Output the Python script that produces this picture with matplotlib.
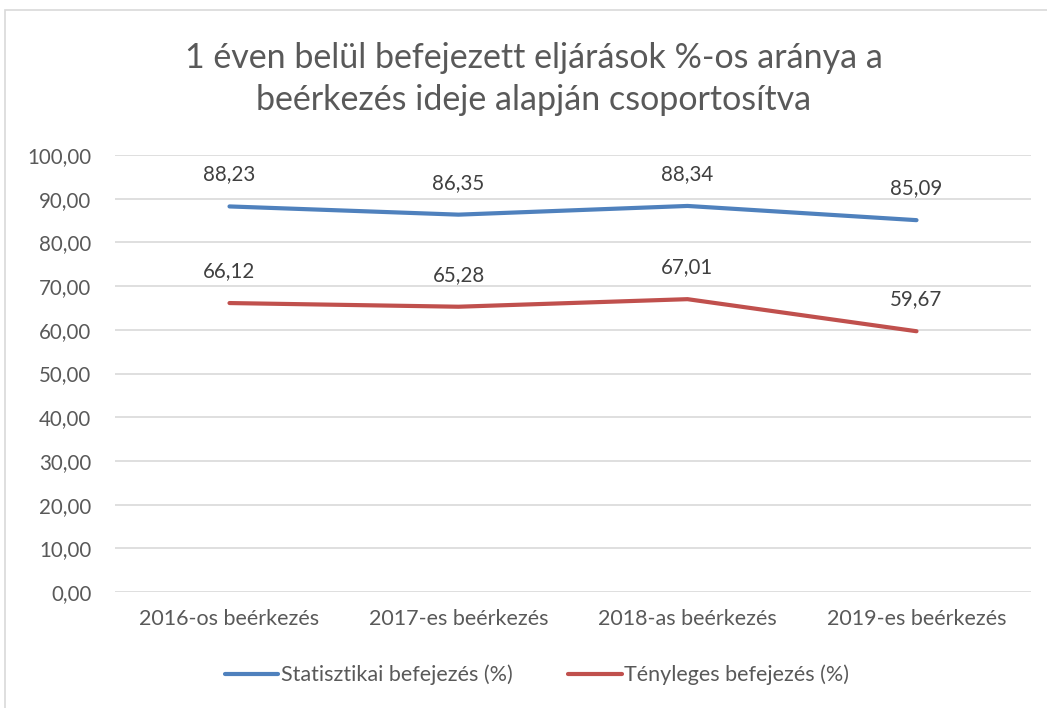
import matplotlib.pyplot as plt
from matplotlib.patches import Rectangle

categories = ["2016-os beérkezés", "2017-es beérkezés", "2018-as beérkezés", "2019-es beérkezés"]
statisztikai = [88.23, 86.35, 88.34, 85.09]
tenyleges = [66.12, 65.28, 67.01, 59.67]
series_names = ["Statisztikai befejezés (%)", "Tényleges befejezés (%)"]
yticks = [0, 10, 20, 30, 40, 50, 60, 70, 80, 90, 100]

COLORS = {"stat": "#4F81BD", "teny": "#C0504D", "text": "#595959", "grid": "#D9D9D9"}

plt.rcParams.update({
    "font.family": ["Lato", "DejaVu Sans"],
    "font.size": 12,
})


def fmt(v):
    return f"{v:.2f}".replace(".", ",")


fig = plt.figure(figsize=(10.47, 7.08), dpi=100)
fig.patches.append(Rectangle((5 / 1047, -0.1), 1.2, (1 - 10 / 708) + 0.1, transform=fig.transFigure,
                             fill=False, edgecolor="#D9D9D9", lw=1.2))
ax = fig.add_axes([115 / 1047, 1 - 592 / 708, (1031 - 115) / 1047, (592 - 155) / 708])

x = list(range(len(categories)))
l1, = ax.plot(x, statisztikai, color=COLORS["stat"], lw=3, solid_capstyle="round", label=series_names[0])
l2, = ax.plot(x, tenyleges, color=COLORS["teny"], lw=3, solid_capstyle="round", label=series_names[1])

# data labels above each point
for xi, v in zip(x, statisztikai):
    ax.annotate(fmt(v), (xi, v), xytext=(0, 32), textcoords="offset pixels", ha="center", va="center",
                fontsize=14.8, color="#404040")
for xi, v in zip(x, tenyleges):
    ax.annotate(fmt(v), (xi, v), xytext=(0, 32), textcoords="offset pixels", ha="center", va="center",
                fontsize=14.8, color="#404040")

ax.set_xlim(-0.5, len(categories) - 0.5)
ax.set_ylim(0, 100)
ax.set_yticks(yticks)
ax.set_yticklabels([fmt(t) for t in yticks])
ax.set_xticks(x)
ax.set_xticklabels(categories)
ax.tick_params(axis="y", length=0, colors=COLORS["text"], labelsize=14.8, pad=17)
ax.tick_params(axis="x", length=0, colors=COLORS["text"], labelsize=15.5, pad=12)
ax.grid(axis="y", color=COLORS["grid"], lw=1.2)
ax.set_axisbelow(True)
for s in ax.spines.values():
    s.set_visible(False)

fig.text(534 / 1047, 1 - 79 / 708, "1 éven belül befejezett eljárások %-os aránya a\nbeérkezés ideje alapján csoportosítva",
         ha="center", va="center", fontsize=24.5, color=COLORS["text"], linespacing=1.4)

fig.legend(handles=[l1, l2], loc="center", bbox_to_anchor=(537 / 1047, 1 - 675 / 708), ncol=2, frameon=False,
           fontsize=15.5, labelcolor=COLORS["text"], handlelength=2.5, handletextpad=0.1, columnspacing=2.6)

fig.savefig("out.png", dpi=100)
